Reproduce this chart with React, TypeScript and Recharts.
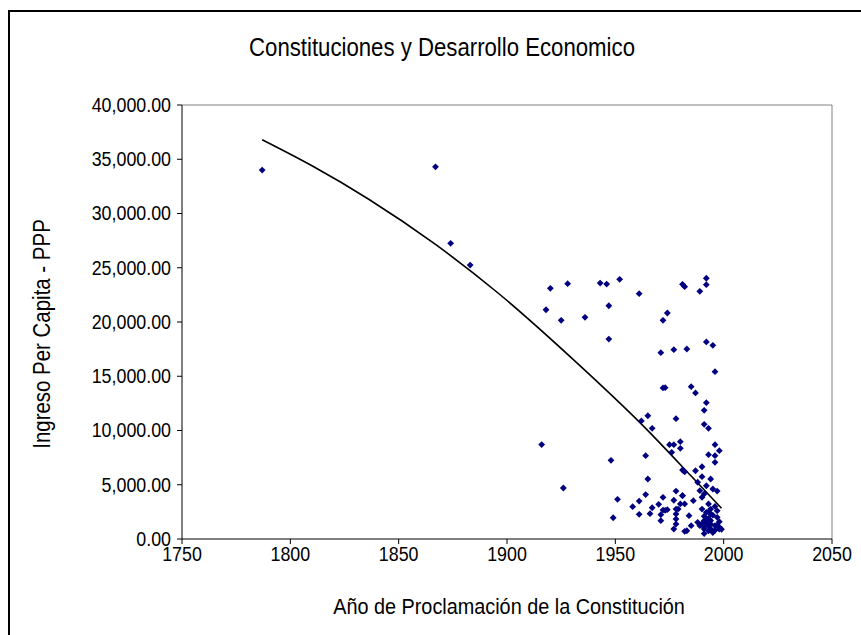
import React from "react";
import {
  ComposedChart,
  Scatter,
  Line,
  XAxis,
  YAxis,
  ReferenceLine,
} from "recharts";

// year of the constitution
const years = [
  1787, 1867, 1874, 1883, 1916, 1926,
  1920, 1928, 1943, 1946, 1952, 1961, 1981, 1982, 1992, 1992, 1989,
  1918, 1925, 1936, 1947, 1947, 1974, 1972, 1971, 1977, 1983, 1992, 1995, 1996,
  1972, 1973, 1985, 1987, 1992, 1991, 1965, 1962, 1967, 1978, 1991, 1993,
  1948, 1964, 1965, 1951, 1949, 1964, 1961, 1958, 1961, 1966, 1967, 1970,
  1972, 1972, 1971, 1971, 1973, 1974, 1977, 1978, 1978, 1979, 1980, 1981,
  1982, 1978, 1978, 1978, 1977, 1983, 1975, 1977, 1980, 1980, 1976, 1981, 1982,
  1996, 1998, 1996, 1993, 1996, 1990, 1987, 1990, 1994, 1995, 1997, 1988,
  1992, 1989, 1991, 1990, 1993, 1994, 1994, 1997, 1996, 1998, 1994, 1993,
  1991, 1989, 1988, 1991, 1992, 1992, 1984, 1985, 1982, 1986, 1981, 1998,
  1994, 1993, 1990, 1991,
  1991, 1992, 1993, 1994, 1995, 1996, 1997, 1998, 1999, 1990, 1991, 1993,
  1995, 1996, 1997,
];

// ingreso per capita (PPP)
const incomes = [
  34000, 34300, 27250, 25250, 8700, 4700,
  23100, 23530, 23590, 23500, 23930, 22610, 23470, 23260, 24030, 23440, 22830,
  21130, 20150, 20430, 21500, 18430, 20830, 20150, 17170, 17450, 17510, 18160, 17850, 15420,
  13920, 13950, 14040, 13460, 12560, 11860, 11360, 10880, 10200, 11090, 10570, 10200,
  7250, 7680, 5530, 3660, 1960, 4090, 3500, 2980, 2270, 2330, 2880, 3200,
  3840, 2670, 2240, 1690, 2640, 2700, 3570, 4420, 2760, 2760, 3230, 3990,
  3230, 2300, 1840, 1380, 920, 760, 8690, 8690, 8970, 8360, 7990, 6360, 6200,
  8690, 8140, 7680, 7770, 7070, 6660, 6290, 5740, 5530, 4610, 4420, 5230,
  4910, 4450, 4150, 3840, 3230, 2760, 2300, 2000, 1230, 1080, 920, 760,
  920, 1230, 1540, 1690, 1840, 2460, 2150, 1230, 710, 3530, 3990, 920,
  1380, 1230, 2760, 1100,
  500, 1500, 1900, 1700, 600, 800, 1300, 1600, 900, 1400, 2100, 2500,
  2200, 3000, 2600,
];

// trend line
const trendYears = [1787, 1810, 1836, 1867, 1896, 1930, 1964, 1985, 1999];
const trendValues = [36800, 34400, 31340, 27150, 22650, 16650, 10200, 5800, 2830];

const xTicks = [1750, 1800, 1850, 1900, 1950, 2000, 2050];
const yTicks = [0, 5000, 10000, 15000, 20000, 25000, 30000, 35000, 40000];

const points = years.map((y, i) => ({ year: y, value: incomes[i] }));
const trend = trendYears.map((y, i) => ({ year: y, value: trendValues[i] }));

const FONT = "'Liberation Sans', Arial, sans-serif";
const SX = 0.87; // text in the picture is a little condensed

const fmt = (v: number) =>
  v.toLocaleString("en-US", { minimumFractionDigits: 2, maximumFractionDigits: 2 });

const YTick = (props: any) => {
  const { x, y, payload } = props;
  return (
    <text
      transform={`translate(${x},${y}) scale(${SX},1)`}
      textAnchor="end"
      dominantBaseline="central"
      fontSize={20.5}
      fontFamily={FONT}
      fill="#000"
    >
      {fmt(payload.value)}
    </text>
  );
};

const XTick = (props: any) => {
  const { x, y, payload } = props;
  return (
    <text
      transform={`translate(${x},${y}) scale(${SX},1)`}
      textAnchor="middle"
      dy="0.72em"
      fontSize={20.5}
      fontFamily={FONT}
      fill="#000"
    >
      {payload.value}
    </text>
  );
};

const Diamond = (props: any) => {
  const { cx, cy } = props;
  if (cx == null || cy == null) return null;
  const r = 3.4;
  return (
    <polygon
      points={`${cx},${cy - r} ${cx + r},${cy} ${cx},${cy + r} ${cx - r},${cy}`}
      fill="#000080"
    />
  );
};

export default function App() {
  return (
    <div
      style={{
        position: "relative",
        width: 861,
        height: 635,
        overflow: "hidden",
        background: "#fff",
        fontFamily: FONT,
      }}
    >
      <style>{`body{margin:0;overflow:hidden}`}</style>
      <div
        style={{
          position: "absolute",
          left: 8,
          top: 10,
          width: 900,
          height: 700,
          border: "2px solid #000",
        }}
      />
      <div
        style={{
          position: "absolute",
          left: 442,
          top: 47,
          transform: `translate(-50%, -50%) scale(${SX},1)`,
          whiteSpace: "nowrap",
          fontSize: 25.5,
          color: "#000",
        }}
      >
        Constituciones y Desarrollo Economico
      </div>
      <div
        style={{
          position: "absolute",
          left: 42,
          top: 334,
          transform: `translate(-50%, -50%) rotate(-90deg) scale(${SX},1)`,
          whiteSpace: "nowrap",
          fontSize: 23.5,
          color: "#000",
        }}
      >
        Ingreso Per Capita - PPP
      </div>
      <div
        style={{
          position: "absolute",
          left: 509,
          top: 606,
          transform: `translate(-50%, -50%) scale(${SX},1)`,
          whiteSpace: "nowrap",
          fontSize: 22.8,
          color: "#000",
        }}
      >
        Año de Proclamación de la Constitución
      </div>
      <div style={{ position: "absolute", left: 0, top: 0 }}>
        <ComposedChart
          width={861}
          height={635}
          margin={{ top: 105, right: 29, left: 100, bottom: 66 }}
        >
          <XAxis
            dataKey="year"
            type="number"
            domain={[1750, 2050]}
            ticks={xTicks}
            allowDuplicatedCategory={false}
            stroke="#000"
            tickSize={5}
            tickMargin={2}
            height={30}
            tick={<XTick />}
          />
          <YAxis
            dataKey="value"
            type="number"
            domain={[0, 40000]}
            ticks={yTicks}
            width={82}
            stroke="#000"
            tickSize={5}
            tickMargin={6}
            tick={<YTick />}
          />
          <ReferenceLine y={40000} stroke="#808080" />
          <ReferenceLine x={2050} stroke="#808080" />
          <Scatter
            data={points}
            dataKey="value"
            shape={<Diamond />}
            isAnimationActive={false}
          />
          <Line
            data={trend}
            dataKey="value"
            type="monotone"
            stroke="#000"
            strokeWidth={1.6}
            dot={false}
            activeDot={false}
            isAnimationActive={false}
          />
        </ComposedChart>
      </div>
    </div>
  );
}
